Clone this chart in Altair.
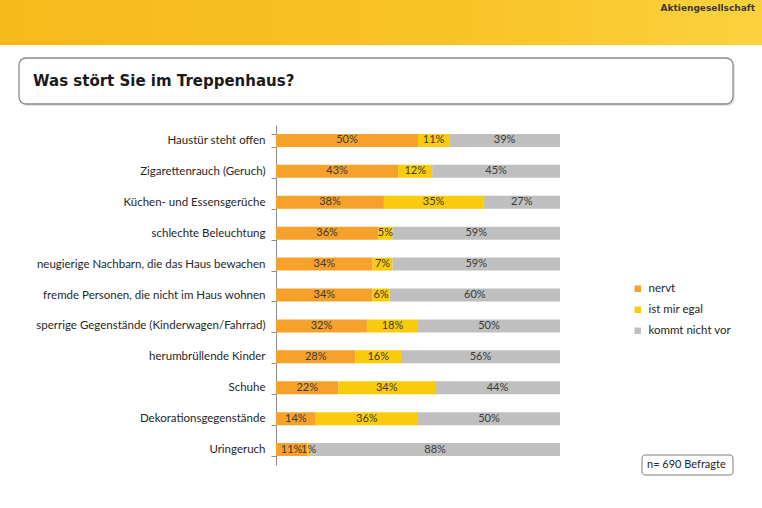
import altair as alt
import pandas as pd

categories = [
    "Haustür steht offen",
    "Zigarettenrauch (Geruch)",
    "Küchen- und Essensgerüche",
    "schlechte Beleuchtung",
    "neugierige Nachbarn, die das Haus bewachen",
    "fremde Personen, die nicht im Haus wohnen",
    "sperrige Gegenstände (Kinderwagen/Fahrrad)",
    "herumbrüllende Kinder",
    "Schuhe",
    "Dekorationsgegenstände",
    "Uringeruch",
]
nervt = [50, 43, 38, 36, 34, 34, 32, 28, 22, 14, 11]
egal = [11, 12, 35, 5, 7, 6, 18, 16, 34, 36, 1]
kommt_nicht_vor = [39, 45, 27, 59, 59, 60, 50, 56, 44, 50, 88]
series = ["nervt", "ist mir egal", "kommt nicht vor"]
colors = ["#F6A12A", "#FACB0A", "#BFBFBF"]

rows = []
for i, c in enumerate(categories):
    for j, (s, vals) in enumerate(zip(series, [nervt, egal, kommt_nicht_vor])):
        rows.append({"cat": c, "series": s, "value": vals[i], "order": j})
df = pd.DataFrame(rows)

FONT = "Lato"
W, H = 284, 340
PL, PT = 276, 125

base = alt.Chart(df).transform_stack(
    stack="value", groupby=["cat"], sort=[alt.SortField("order")], as_=["x0", "x1"]
).transform_calculate(mid="(datum.x0 + datum.x1) / 2", lbl="datum.value + '%'")

yenc = alt.Y(
    "cat:N",
    sort=categories,
    title=None,
    scale=alt.Scale(paddingInner=0.58, paddingOuter=0.29),
    axis=alt.Axis(
        labelFont=FONT, labelFontSize=11.5, labelColor="#262626", labelPadding=6,
        domainColor="#8C8C8C", tickColor="#8C8C8C", tickSize=5, tickBand="extent",
        labelLimit=400,
    ),
)

bars = base.mark_bar().encode(
    y=yenc,
    x=alt.X("x0:Q", scale=alt.Scale(domain=[0, 100], nice=False), axis=None),
    x2="x1:Q",
    color=alt.Color(
        "series:N",
        scale=alt.Scale(domain=series, range=colors),
        legend=alt.Legend(
            title=None, orient="none", legendX=356, legendY=158,
            symbolType="square", symbolSize=42, symbolStrokeWidth=0,
            labelFont=FONT, labelFontSize=11.5, labelColor="#262626",
            rowPadding=8, labelOffset=5,
        ),
    ),
)

labels = base.mark_text(font=FONT, fontSize=11, color="#3A3A3A").encode(
    y=alt.Y("cat:N", sort=categories),
    x=alt.X("mid:Q"),
    text="lbl:N",
)

one = pd.DataFrame({"a": [0]})
deco = alt.Chart(one)

header = deco.mark_rect(
    color=alt.Gradient(
        gradient="linear",
        stops=[alt.GradientStop(color="#F8B91B", offset=0),
               alt.GradientStop(color="#F9C325", offset=0.6),
               alt.GradientStop(color="#FBD23E", offset=1)],
        x1=0, x2=1, y1=0, y2=0,
    )
).encode(x=alt.value(-PL), x2=alt.value(762 - PL), y=alt.value(-PT), y2=alt.value(45 - PT))

ag_text = deco.mark_text(
    text="Aktiengesellschaft", font="DejaVu Sans", fontSize=9, fontWeight="bold",
    color="#3A3A3A", align="right", baseline="middle",
).encode(x=alt.value(755 - PL), y=alt.value(8 - PT))

title_shadow = deco.mark_rect(
    cornerRadius=7, fill="#D0D0D0", opacity=0.6
).encode(x=alt.value(21 - PL), x2=alt.value(735 - PL), y=alt.value(60 - PT), y2=alt.value(106 - PT))

title_box = deco.mark_rect(
    cornerRadius=7, fill="white", stroke="#8A8A8A", strokeWidth=1.3
).encode(x=alt.value(19 - PL), x2=alt.value(733 - PL), y=alt.value(58 - PT), y2=alt.value(104 - PT))

title_text = deco.mark_text(
    text="Was stört Sie im Treppenhaus?", font="DejaVu Sans", fontSize=15,
    fontWeight="bold", color="#1A1A1A", align="left", baseline="middle",
).encode(x=alt.value(33 - PL), y=alt.value(81 - PT))

n_box = deco.mark_rect(
    cornerRadius=3, fill="white", stroke="#7F7F7F", strokeWidth=1
).encode(x=alt.value(642 - PL), x2=alt.value(733 - PL), y=alt.value(455 - PT), y2=alt.value(475 - PT))

n_text = deco.mark_text(
    text="n= 690 Befragte", font=FONT, fontSize=11, color="#262626",
    align="left", baseline="middle",
).encode(x=alt.value(647 - PL), y=alt.value(465 - PT))

chart = alt.layer(
    header, ag_text, title_shadow, title_box, title_text, bars, labels, n_box, n_text
).properties(
    width=W, height=H,
    autosize=alt.AutoSizeParams(type="none"),
    padding={"left": PL, "top": PT, "right": 762 - PL - W, "bottom": 508 - PT - H},
    background="white",
).configure_view(stroke=None)

chart.save("out.html", embed_options={"renderer": "svg", "actions": False})
